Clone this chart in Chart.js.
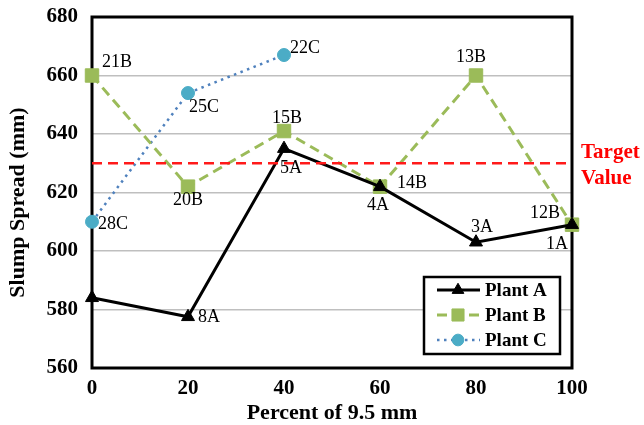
<!DOCTYPE html>
<html><head><meta charset="utf-8">
<script src="https://cdn.jsdelivr.net/npm/chart.js@4.4.0/dist/chart.umd.min.js"></script>
<style>html,body{margin:0;padding:0;background:#fff;} #wrap{width:644px;height:425px;position:relative;}</style>
</head><body><div id="wrap"><canvas id="c" width="644" height="425"></canvas></div>
<script>
// ---- data ----
const percents = [0, 20, 40, 60, 80, 100];
const plantA = [584, 577.5, 635, 622, 603, 609];
const plantB = [660, 622, 641, 622, 660, 609];
const plantC = [610, 654, 667];
const labelsA = ['', '8A', '5A', '4A', '3A', '1A'];
const labelsB = ['21B', '20B', '15B', '14B', '13B', '12B'];
const labelsC = ['28C', '25C', '22C'];
const targetValue = 630;
const yTicks = [560, 580, 600, 620, 640, 660, 680];
const seriesNames = ['Plant A', 'Plant B', 'Plant C'];
const yTitle = 'Slump Spread (mm)';
const xTitle = 'Percent of 9.5 mm';

// ---- label placement (style only) ----
const offA = [[0,0,'left'], [10,0,'left'], [7,20,'center'], [-2,19,'center'], [6,-15,'center'], [-4,20,'right']];
const offB = [[10,-13,'left'], [0,14,'center'], [3,-13,'center'], [17,-3,'left'], [-5,-18,'center'], [-12,-11,'right']];
const offC = [[6,3,'left'], [1,14,'left'], [6,-7,'left']];

const SERIF = "'Liberation Serif', 'Times New Roman', serif";
const pts = (xs, ys) => ys.map((v, i) => ({x: xs[i], y: v}));

const styleA = {color:'#000000', dash:[], width:3, point:'triangle', radius:7.5, pcolor:'#000000'};
const styleB = {color:'#9bbb59', dash:[10,6], width:3, point:'rect', radius:9.5, pcolor:'#9bbb59'};
const styleC = {color:'#4f81bd', dash:[2.5,4.5], width:2.5, point:'circle', radius:6.5, pcolor:'#4bacc6'};
const styles = [styleA, styleB, styleC];

const overlay = {
  id: 'overlay',
  beforeDatasetsDraw(chart) {
    const {ctx, chartArea: a} = chart;
    ctx.save();
    ctx.strokeStyle = '#000';
    ctx.lineWidth = 3;
    ctx.strokeRect(a.left, a.top, a.right - a.left, a.bottom - a.top);
    // y axis title
    ctx.translate(18, (a.top + a.bottom) / 2 + 10);
    ctx.rotate(-Math.PI / 2);
    ctx.fillStyle = '#000';
    ctx.font = 'bold 22px ' + SERIF;
    ctx.textAlign = 'center';
    ctx.textBaseline = 'middle';
    ctx.fillText(yTitle, 0, 0);
    ctx.restore();
  },
  afterDatasetsDraw(chart) {
    const {ctx, scales: {x, y}} = chart;
    ctx.save();
    ctx.font = '18px ' + SERIF;
    ctx.fillStyle = '#000';
    ctx.textBaseline = 'middle';
    const put = (xs, ys, labs, offs) => {
      labs.forEach((t, i) => {
        if (!t) return;
        ctx.textAlign = offs[i][2];
        ctx.fillText(t, x.getPixelForValue(xs[i]) + offs[i][0], y.getPixelForValue(ys[i]) + offs[i][1]);
      });
    };
    put(percents, plantA, labelsA, offA);
    put(percents, plantB, labelsB, offB);
    put(percents, plantC, labelsC, offC);
    // Target value text
    const ty = y.getPixelForValue(targetValue);
    ctx.fillStyle = '#ff0000';
    ctx.font = 'bold 21px ' + SERIF;
    ctx.textAlign = 'left';
    ctx.fillText('Target', x.right + 9, ty - 11);
    ctx.fillText('Value', x.right + 9, ty + 15);
    ctx.restore();
  },
  afterDraw(chart) {
    const {ctx} = chart;
    ctx.save();
    const bx = 424, by = 277, bw = 136, bh = 77;
    ctx.fillStyle = '#fff';
    ctx.fillRect(bx, by, bw, bh);
    ctx.strokeStyle = '#000';
    ctx.lineWidth = 2.5;
    ctx.strokeRect(bx, by, bw, bh);
    styles.forEach((s, i) => {
      const yy = by + 13 + i * 25;
      ctx.save();
      ctx.strokeStyle = s.color;
      ctx.lineWidth = s.width;
      ctx.setLineDash(s.dash);
      ctx.beginPath();
      ctx.moveTo(bx + 13, yy);
      ctx.lineTo(bx + 56, yy);
      ctx.stroke();
      ctx.restore();
      ctx.fillStyle = s.pcolor;
      ctx.strokeStyle = s.pcolor;
      ctx.lineWidth = 1;
      Chart.helpers.drawPoint(ctx, {pointStyle: s.point, radius: s.radius * 0.9, rotation: 0, borderWidth: 1}, bx + 34, yy);
      ctx.fillStyle = '#000';
      ctx.font = 'bold 19px ' + SERIF;
      ctx.textAlign = 'left';
      ctx.textBaseline = 'middle';
      ctx.fillText(seriesNames[i], bx + 61, yy + 1);
    });
    ctx.restore();
  }
};

const mkDs = (label, data, s) => ({
  label, data,
  borderColor: s.color, borderWidth: s.width, borderDash: s.dash,
  pointStyle: s.point, pointRadius: s.radius, pointHoverRadius: s.radius,
  pointBackgroundColor: s.pcolor, pointBorderColor: s.pcolor, pointBorderWidth: 1,
  tension: 0, fill: false, clip: false
});

new Chart(document.getElementById('c'), {
  type: 'line',
  data: {
    datasets: [
      {label: 'Target', data: [{x: percents[0], y: targetValue}, {x: percents[percents.length-1], y: targetValue}],
       borderColor: '#ff1a1a', borderWidth: 2.5, borderDash: [10, 6], pointRadius: 0, fill: false, clip: false},
      mkDs(seriesNames[0], pts(percents, plantA), styleA),
      mkDs(seriesNames[1], pts(percents, plantB), styleB),
      mkDs(seriesNames[2], pts(percents, plantC), styleC)
    ]
  },
  options: {
    responsive: false, animation: false,
    layout: {padding: {top: 17, right: 72, left: 0, bottom: 0}},
    plugins: {legend: {display: false}, tooltip: {enabled: false}},
    scales: {
      x: {
        type: 'linear', min: 0, max: 100,
        afterBuildTicks: s => { s.ticks = percents.map(v => ({value: v})); },
        afterFit: s => { s.height = 57; s.paddingLeft = 0; s.paddingRight = 0; },
        grid: {display: false, drawTicks: false},
        border: {display: false},
        ticks: {font: {family: SERIF, size: 21, weight: 'bold'}, color: '#000', padding: 8, maxRotation: 0},
        title: {display: true, text: xTitle, font: {family: SERIF, size: 22, weight: 'bold'}, color: '#000', padding: {top: 0, bottom: -2}}
      },
      y: {
        min: 560, max: 680,
        afterBuildTicks: s => { s.ticks = yTicks.map(v => ({value: v})); },
        afterFit: s => { s.width = 92; s.paddingTop = 0; s.paddingBottom = 0; },
        grid: {color: '#bfbfbf', lineWidth: 1.5, drawTicks: false},
        border: {display: false},
        ticks: {font: {family: SERIF, size: 21, weight: 'bold'}, color: '#000', padding: 14},
        title: {display: false}
      }
    }
  },
  plugins: [overlay]
});
</script></body></html>
